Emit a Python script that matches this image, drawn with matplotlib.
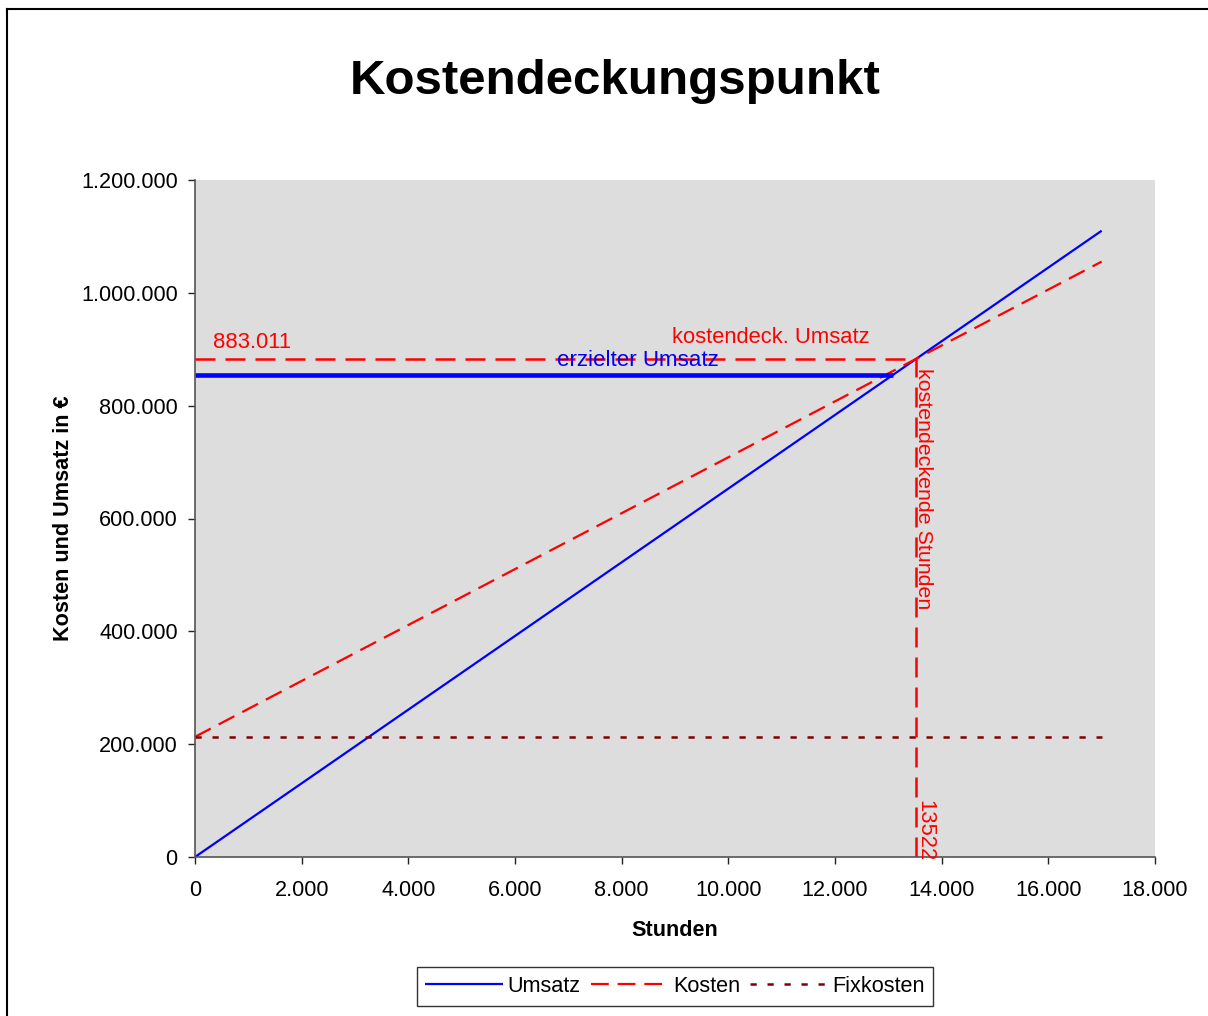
import matplotlib
matplotlib.use("Agg")
import matplotlib.pyplot as plt
from matplotlib.ticker import FuncFormatter
from matplotlib.lines import Line2D

plt.rcParams['font.family'] = ['Liberation Sans', 'DejaVu Sans']

# Break-even data (hours vs. euros)
stunden = [0, 17000]
umsatz = [0, 1110100]
kosten = [213000, 1055350]
fixkosten = [213000, 213000]

be_stunden = 13522
be_umsatz = 883011
erzielter_umsatz = 854000
erzielt_stunden = 13080

x_ticks = [0, 2000, 4000, 6000, 8000, 10000, 12000, 14000, 16000, 18000]
y_ticks = [0, 200000, 400000, 600000, 800000, 1000000, 1200000]


def de_fmt(v, pos=None):
    return f"{int(round(v)):,}".replace(",", ".")


FS = 15.6
AFS = 15.8

fig = plt.figure(figsize=(12.08, 10.16), dpi=100)
fig.patch.set_facecolor('white')
ax = fig.add_axes([195 / 1208, 1 - 857 / 1016, 960 / 1208, 677 / 1016])
ax.set_facecolor('#DDDDDD')

# outer frame (left and top edges)
fig.add_artist(Line2D([7 / 1208, 7 / 1208], [0, 1 - 9 / 1016], transform=fig.transFigure,
                      color='black', lw=1.5))
fig.add_artist(Line2D([7 / 1208, 1], [1 - 9 / 1016, 1 - 9 / 1016], transform=fig.transFigure,
                      color='black', lw=1.5))

red = '#FF0000'
blue = '#0000FF'
darkred = '#800000'

ax.plot(stunden, umsatz, color=blue, lw=1.6, label='Umsatz', solid_capstyle='butt')
ax.plot(stunden, kosten, color=red, lw=1.6, dashes=(8, 4), label='Kosten')
ax.plot(stunden, fixkosten, color=darkred, lw=1.8, dashes=(2.5, 4.3), label='Fixkosten')

# achieved revenue
ax.plot([0, erzielt_stunden], [erzielter_umsatz, erzielter_umsatz], color=blue, lw=3.3,
        solid_capstyle='butt')
# break-even revenue and hours
ax.plot([0, be_stunden], [be_umsatz, be_umsatz], color=red, lw=1.8, dashes=(8, 4))
ax.plot([be_stunden, be_stunden], [0, be_umsatz], color=red, lw=1.8, dashes=(8, 4))

ax.annotate(de_fmt(be_umsatz), xy=(0, be_umsatz), xytext=(18, 6), textcoords='offset pixels',
            color=red, fontsize=AFS, ha='left', va='bottom')
ax.annotate('kostendeck. Umsatz', xy=(12656, be_umsatz), xytext=(0, 11),
            textcoords='offset pixels', color=red, fontsize=AFS, ha='right', va='bottom')
ax.annotate('erzielter Umsatz', xy=(8306, erzielter_umsatz), xytext=(0, 4),
            textcoords='offset pixels', color=blue, fontsize=16.1, ha='center', va='bottom')
ax.annotate('kostendeckende Stunden', xy=(be_stunden, be_umsatz), xytext=(-2, -9),
            textcoords='offset pixels', color=red, fontsize=15.4, ha='left', va='bottom',
            rotation=270, rotation_mode='anchor')
ax.annotate(str(be_stunden), xy=(be_stunden, 0), xytext=(-2, 57),
            textcoords='offset pixels', color=red, fontsize=AFS, ha='left', va='bottom',
            rotation=270, rotation_mode='anchor')

ax.set_xlim(0, 18000)
ax.set_ylim(0, 1200000)
ax.set_xticks(x_ticks)
ax.set_yticks(y_ticks)
ax.xaxis.set_major_formatter(FuncFormatter(de_fmt))
ax.yaxis.set_major_formatter(FuncFormatter(de_fmt))

for s in ('top', 'right'):
    ax.spines[s].set_visible(False)
for s in ('left', 'bottom'):
    ax.spines[s].set_color('#555555')
    ax.spines[s].set_linewidth(1.2)
ax.tick_params(axis='both', direction='out', length=5, width=1.0, color='#222222',
               labelsize=FS, labelcolor='black')
ax.tick_params(axis='x', pad=11.5)
ax.tick_params(axis='y', pad=7.5)

ax.set_xlabel('Stunden', fontsize=FS, fontweight='bold', labelpad=14)
ax.set_ylabel('Kosten und Umsatz in €', fontsize=FS, fontweight='bold', labelpad=5)

fig.text(615 / 1208, 1 - 81 / 1016, 'Kostendeckungspunkt', fontsize=35.5, fontweight='bold',
         ha='center', va='center')

leg = fig.legend(handles=ax.get_lines()[:3], loc='center', ncol=3,
                 bbox_to_anchor=(675 / 1208, 1 - 986.5 / 1016), fontsize=FS, frameon=True,
                 fancybox=False, edgecolor='black', handlelength=3.6, handletextpad=0.2,
                 columnspacing=0.45, borderpad=0.4, borderaxespad=0)
leg.get_frame().set_linewidth(1.0)

fig.savefig('out.png', dpi=100, facecolor='white')
